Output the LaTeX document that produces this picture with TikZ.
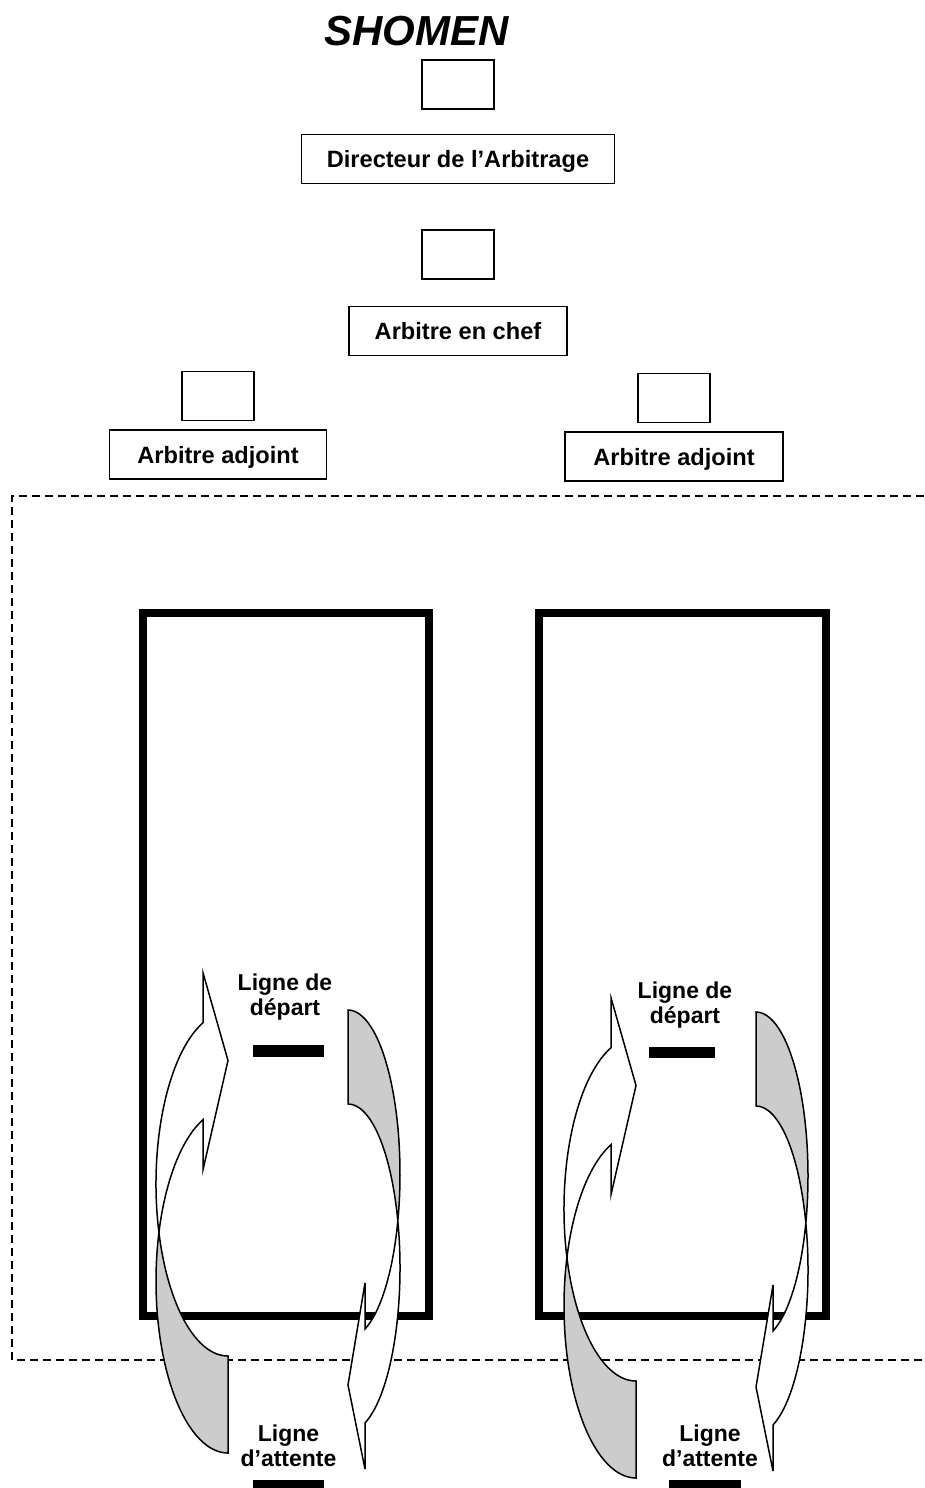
\documentclass[tikz,border=0pt]{standalone}
\usepackage{fontspec}
\setmainfont{Liberation Sans}
\usepackage{xcolor}
\colorlet{BACKCOLOR}{black!20}
\colorlet{FRONTCOLOR}{white}
\usepackage{tikz}
\usetikzlibrary{positioning}
\newcommand\labelFont{\fontsize{23}{25}\selectfont\bfseries}
\newcommand\roleFont{\fontsize{23.6}{26}\selectfont\bfseries}
\tikzset{
  basic-style/.style = {
    rectangle, draw, line width=1.5pt,
    minimum height=49pt,
    inner sep=0pt
  },
  post-style/.style = {
    basic-style,
    minimum width=72pt
  },
  role-style/.style = {
    basic-style,
    font=\roleFont,
    text height=17pt, text depth=0pt
  },
  title-style/.style = {
    font=\fontsize{42}{48}\selectfont\bfseries\itshape,
    inner sep=0pt, anchor=base
  },
  line-style/.style = {
    font=\labelFont, align=center, inner sep=0pt, anchor=north
  },
  lane-style/.style = {draw, line width=8pt},
  zone-style/.style = {draw, line width=1.2pt, dash pattern=on 8pt off 5pt},
  mark-style/.style = {fill=black},
  back-style/.style = {draw, line width=1.5pt, fill=BACKCOLOR},
  front-style/.style = {draw, line width=1.5pt, fill=FRONTCOLOR},
  right-turn/.style = {x radius=72, y radius=172},
  left-turn/.style = {x radius=52, y radius=164}
}
% turn on the left side, head pointing right at the top
\def\createRightTurn tail:#1 bottom:#2;{
  \path[back-style] (#1,{#2-97})
    arc[right-turn, start angle=90, end angle=163.62]
    arc[right-turn, start angle=196.38, end angle=90] -- cycle;
  \path[front-style] ({#1-25},{#2-333.3})
    arc[right-turn, start angle=249.69, end angle=196.38]
    arc[right-turn, start angle=163.62, end angle=249.69]
    -- ({#1-25},{#2-480.3}) -- (#1,{#2-392.5}) -- ({#1-25},{#2-283.3}) -- cycle;
}
% turn on the right side, head pointing left at the bottom
\def\createLeftTurn tail:#1 top:#2;{
  \path[back-style] (#1,#2)
    arc[left-turn, start angle=-90, end angle=16.65]
    arc[left-turn, start angle=-16.65, end angle=-90] -- cycle;
  \path[front-style] ({#1+17},{#2+319})
    arc[left-turn, start angle=70.92, end angle=16.65]
    arc[left-turn, start angle=-16.65, end angle=70.92]
    -- ({#1+17},{#2+459}) -- (#1,{#2+375}) -- ({#1+17},{#2+273}) -- cycle;
}
\begin{document}
\begin{tikzpicture}[x=1pt,y=-1pt]
    \useasboundingbox (0,0) rectangle (924,1488);

    \node[title-style] (title) at (416.5,46) {SHOMEN};
    \node[post-style] (post-director) at (458,84.5) {};
    \node[role-style, minimum width=313pt, below=24pt of post-director] (director) {Directeur de l’Arbitrage};
    \node[post-style, below=45pt of director] (post-chief) {};
    \node[role-style, minimum width=218pt, below=26pt of post-chief] (chief) {Arbitre en chef};
    \node[post-style] (post-left) at (218,396) {};
    \node[role-style, minimum width=217pt, below=8pt of post-left] (assistant-left) {Arbitre adjoint};
    \node[post-style] (post-right) at (674,398) {};
    \node[role-style, minimum width=218pt, below=8pt of post-right] (assistant-right) {Arbitre adjoint};

    \draw[zone-style] (924,496) -- (12,496) -- (12,1360) -- (924,1360);
    \draw[lane-style] (143,613) rectangle (429,1316);
    \draw[lane-style] (539,613) rectangle (826,1316);

    \createRightTurn tail:228 bottom:1453;
    \createLeftTurn tail:348 top:1010;
    \createRightTurn tail:636 bottom:1478;
    \createLeftTurn tail:756 top:1012;

    \path[mark-style] (253,1045) rectangle (324,1057);
    \path[mark-style] (649,1047) rectangle (715,1058);
    \path[mark-style] (253,1480) rectangle (324,1488);
    \path[mark-style] (669,1480) rectangle (741,1488);

    \node[line-style] (start-left) at (285,974) {Ligne de\\départ};
    \node[line-style] (start-right) at (685,982) {Ligne de\\départ};
    \node[line-style] (wait-left) at (288.5,1425) {Ligne\\d’attente};
    \node[line-style] (wait-right) at (710,1425) {Ligne\\d’attente};
  \end{tikzpicture}
\end{document}
